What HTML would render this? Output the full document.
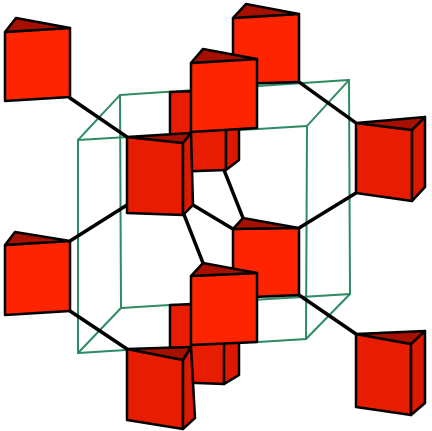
<!DOCTYPE html>
<html><head><meta charset="utf-8"><style>
html,body{margin:0;padding:0;background:#fff;width:432px;height:431px;overflow:hidden}
svg{display:block}
.f{fill:#ff2400;stroke:#000;stroke-width:2.5;stroke-linejoin:round}
.s{fill:#dd1800;stroke:#000;stroke-width:2.5;stroke-linejoin:round}
.t{fill:#a51000;stroke:#000;stroke-width:2.5;stroke-linejoin:round}
.fd{fill:#e81c00;stroke:#000;stroke-width:2.5;stroke-linejoin:round}
.b{stroke:#000;stroke-width:3.5;fill:none;stroke-linecap:round}
.g{stroke:#2e8b63;stroke-width:2;fill:none}
</style></head><body>
<svg width="432" height="431" viewBox="0 0 432 431">
<g class="g">
<polygon points="120,95 349,80 350,294 121,308"/>
<polygon points="78,140 307,126 306,339 78,353"/>
<line x1="78" y1="140" x2="120" y2="95"/><line x1="307" y1="126" x2="349" y2="80"/>
<line x1="306" y1="339" x2="350" y2="294"/><line x1="78" y1="353" x2="121" y2="308"/>
</g>
<g class="b">
<line x1="70" y1="98" x2="127" y2="137"/>
<line x1="299" y1="82" x2="356" y2="123"/>
<line x1="127" y1="205" x2="70" y2="241"/>
<line x1="183" y1="212" x2="203" y2="263"/>
<line x1="193" y1="205" x2="233" y2="229"/>
<line x1="224" y1="170" x2="243" y2="218"/>
<line x1="70" y1="311" x2="127" y2="349"/>
<line x1="299" y1="228" x2="356" y2="193"/>
<line x1="299" y1="295" x2="356" y2="334"/>
</g>
<g>
<polygon class="f" points="233,18 299,14 299,82 233,84"/>
<polygon class="t" points="233,18 246,4 299,14"/>
</g>
<g>
<polygon class="fd" points="170,92 226,90 226,170 170,172"/>
<polygon class="s" points="226,90 239,84 239,160 226,170"/>
</g>
<g>
<polygon class="f" points="191,63 257,59 257,128 191,132"/>
<polygon class="t" points="191,63 203,49 257,59"/>
</g>
<g>
<polygon class="f" points="5,32 70,28 70,97 5,101"/>
<polygon class="t" points="5,32 16,18 70,28"/>
</g>
<g>
<polygon class="fd" points="356,123 412,130 412,201 356,193"/>
<polygon class="s" points="412,130 425,117 425,187 412,201"/>
<polygon class="t" points="356,123 425,117 412,130"/>
</g>
<g>
<polygon class="fd" points="170,305 226,303 224,384 170,382"/>
<polygon class="s" points="224,303 239,297 239,375 224,384"/>
</g>
<g>
<polygon class="fd" points="127,137 183,143 183,215 127,213"/>
<polygon class="s" points="183,143 191,133 193,205 183,215"/>
<polygon class="t" points="127,137 191,133 183,143"/>
</g>
<g>
<polygon class="f" points="233,229 299,228 299,295 233,298"/>
<polygon class="t" points="233,229 243,218 299,228"/>
</g>
<g>
<polygon class="f" points="191,276 257,273 257,342 191,345"/>
<polygon class="t" points="191,276 203,263 257,273"/>
</g>
<g>
<polygon class="f" points="5,245 70,241 70,311 5,315"/>
<polygon class="t" points="5,245 15,232 70,241"/>
</g>
<g>
<polygon class="fd" points="127,349 183,360 183,429 127,420"/>
<polygon class="s" points="183,360 191,347 195,418 183,429"/>
<polygon class="t" points="127,349 191,347 183,360"/>
</g>
<g>
<polygon class="fd" points="356,334 411,344 411,415 356,407"/>
<polygon class="s" points="411,344 425,331 425,403 411,415"/>
<polygon class="t" points="356,334 425,331 411,344"/>
</g>
</svg>
</body></html>
